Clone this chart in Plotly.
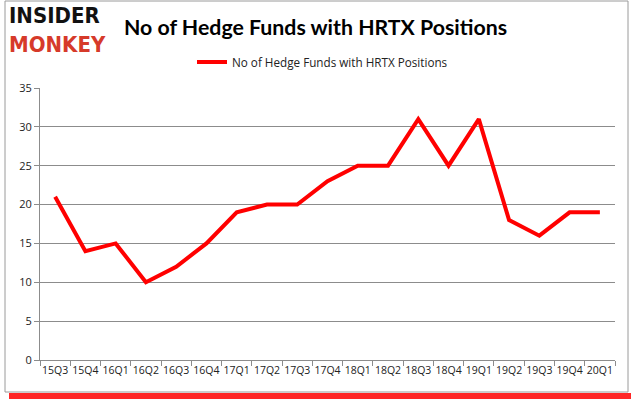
import plotly.graph_objects as go

quarters = ["15Q3", "15Q4", "16Q1", "16Q2", "16Q3", "16Q4", "17Q1", "17Q2", "17Q3", "17Q4",
            "18Q1", "18Q2", "18Q3", "18Q4", "19Q1", "19Q2", "19Q3", "19Q4", "20Q1"]
funds = [21, 14, 15, 10, 12, 15, 19, 20, 20, 23, 25, 25, 31, 25, 31, 18, 16, 19, 19]
series_name = "No of Hedge Funds with HRTX Positions"
title_text = "No of Hedge Funds with HRTX Positions"

W, H = 635, 405
L, R, T, B = 40, 20, 88, 45
PW = W - L - R
PH = H - T - B

def px(x):
    return (x - L) / PW

def py(y):
    return (H - B - y) / PH

fig = go.Figure()
fig.add_trace(go.Scatter(
    x=quarters, y=funds, mode="lines", name=series_name,
    line=dict(color="#ff0000", width=4),
))

grid = "#8c8c8c"
fig.update_layout(
    width=W, height=H,
    margin=dict(l=L, r=R, t=T, b=B),
    paper_bgcolor="white", plot_bgcolor="white",
    font=dict(family="Liberation Sans, Arial", size=11, color="#222"),
    showlegend=True,
    legend=dict(orientation="h", x=px(192), xanchor="left", y=py(62), yanchor="middle",
                font=dict(size=11.7, family="Open Sans, Liberation Sans"),
                itemwidth=30, bgcolor="rgba(0,0,0,0)"),
    xaxis=dict(type="category", showgrid=False, showline=True, linecolor=grid, linewidth=1,
               ticks="outside", ticklen=5, tickcolor=grid, tickson="boundaries",
               tickfont=dict(size=10.5, family="Open Sans, Liberation Sans", color="#222"),
               tickangle=0, range=[-0.5, len(quarters) - 0.5]),
    yaxis=dict(range=[0, 35], dtick=5, showgrid=True, gridcolor=grid, gridwidth=1,
               showline=True, linecolor=grid, linewidth=1, ticks="outside", ticklen=5,
               tickcolor=grid, zeroline=False,
               tickfont=dict(size=11, family="Open Sans, Liberation Sans", color="#222")),
)

# chart frame and red shadow
fig.add_shape(type="rect", xref="paper", yref="paper",
              x0=px(9), x1=px(631), y0=py(393), y1=py(399),
              fillcolor="rgba(255,0,0,0.85)", line=dict(width=0), layer="below")
fig.add_shape(type="rect", xref="paper", yref="paper",
              x0=px(5), x1=px(628), y0=py(392), y1=py(1),
              fillcolor="white", line=dict(color="#9a9a9a", width=1), layer="below")

# title
fig.add_annotation(text="<b>" + title_text + "</b>", xref="paper", yref="paper",
                   x=px(315), y=py(27), xanchor="center", yanchor="middle", showarrow=False,
                   font=dict(size=21.3, family="Lato, Open Sans", color="black"))
# logo
fig.add_annotation(text="<b>INSIDER</b><br><b><span style='color:#d63a2a'>MONKEY</span></b>",
                   xref="paper", yref="paper", align="left",
                   x=px(7), y=py(30), xanchor="left", yanchor="middle", showarrow=False,
                   font=dict(size=22, family="DejaVu Sans Condensed, DejaVu Sans", color="#111"))

fig.write_html("out.html", config={"displayModeBar": False},
               post_script="document.body.style.margin='0';")
